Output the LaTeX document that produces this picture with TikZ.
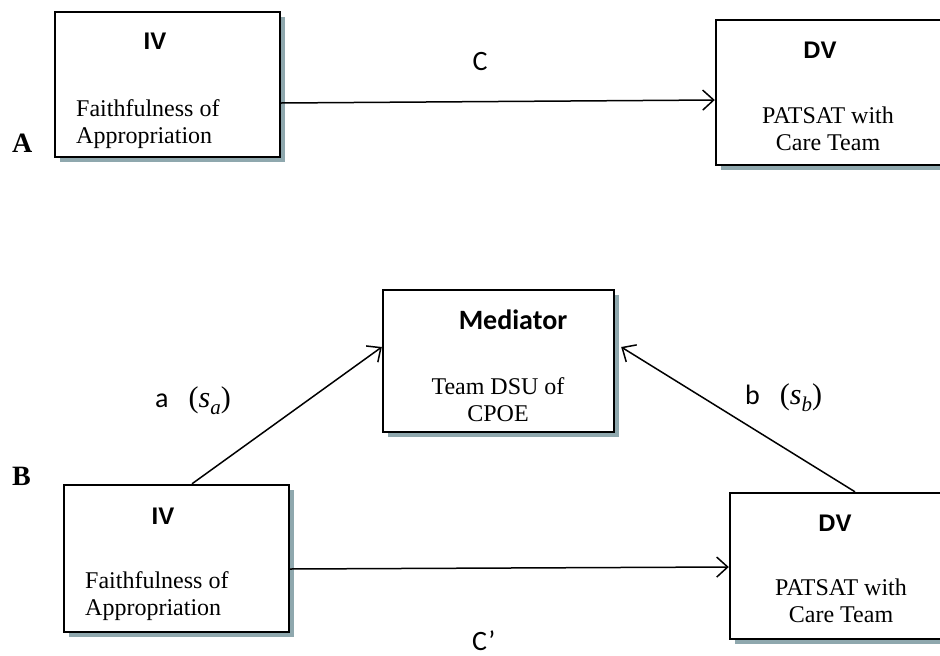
\documentclass[tikz,border=0pt]{standalone}
\usepackage{fontspec}
\setmainfont{Liberation Serif}
\newfontfamily\arialf{Liberation Sans}
\newfontfamily\calib{Carlito}
\usetikzlibrary{shadows,arrows.meta}
\definecolor{shadowc}{HTML}{8FA8AE}
\newcommand{\coef}[1]{{\rmfamily\fontsize{30}{34}\selectfont(\textit{s}\raisebox{-7pt}{\fontsize{21}{21}\selectfont\textit{#1}})}}
\begin{document}
\begin{tikzpicture}[x=1pt,y=-1pt,
  box/.style={draw=black, line width=2.4pt, fill=white, inner sep=0pt,
    minimum width=225pt, minimum height=145pt,
    drop shadow={shadow xshift=5pt, shadow yshift=-5pt, fill=shadowc, opacity=1}},
  ttl/.style={font=\arialf\bfseries\fontsize{24}{28}\selectfont, inner sep=0pt},
  medttl/.style={font=\calib\bfseries\fontsize{28}{32}\selectfont, inner sep=0pt},
  body/.style={font=\fontsize{24}{27}\selectfont, inner sep=0pt},
  lbl/.style={font=\calib\fontsize{28}{32}\selectfont, inner sep=0pt},
  panel/.style={font=\bfseries\fontsize{28}{32}\selectfont, inner sep=0pt},
  arr/.style={line width=1.5pt, -{Straight Barb[length=11pt,width=20pt,line width=1.5pt]}}
]
\useasboundingbox (0,0) rectangle (940,656);
\fill[white] (0,0) rectangle (940,656);

% ---------- Panel A ----------
\node[box] (ivA) at (167.5,84.5) {};
\node[box] (dvA) at (828.5,92.5) {};
\node[ttl] (ivAt) at (155,41) {IV};
\node[body, anchor=base west, align=left] (ivAb) at (76,143) {Faithfulness of\\Appropriation};
\node[ttl] (dvAt) at (820,50) {DV};
\node[body, anchor=base, align=center] (dvAb) at (828,150) {PATSAT with\\Care Team};
\node[panel, anchor=base west] (pA) at (12,152) {A};
\draw[arr] ([yshift=-18.5pt]ivA.east) -- ([yshift=-7.5pt]dvA.west);
\node[lbl] (cA) at (480,62) {C};

% ---------- Panel B ----------
\node[box, minimum width=231pt, minimum height=142pt] (med) at (498.5,361) {};
\node[medttl] (medt) at (513,320) {Mediator};
\node[body, anchor=base, align=center] (medb) at (498,421) {Team DSU of\\CPOE};

\node[box, minimum height=147pt] (ivB) at (176.5,558.5) {};
\node[ttl] (ivBt) at (163,516) {IV};
\node[body, anchor=base west, align=left] (ivBb) at (85,615) {Faithfulness of\\Appropriation};

\node[box, minimum height=146pt] (dvB) at (842.5,566) {};
\node[ttl] (dvBt) at (835,523) {DV};
\node[body, anchor=base, align=center] (dvBb) at (841,622) {PATSAT with\\Care Team};

\node[panel, anchor=base west] (pB) at (12,485) {B};

\draw[arr] ([xshift=15.5pt]ivB.north) -- ([yshift=14pt]med.west);
\draw[arr] ([xshift=12.5pt]dvB.north) -- ([xshift=6pt,yshift=14pt]med.east);
\draw[arr] ([yshift=-10.5pt]ivB.east) -- ([yshift=-1pt]dvB.west);

\node[lbl, anchor=base west] (la) at (155,407) {a\hspace{20pt}\coef{a}};
\node[lbl, anchor=base west] (lb) at (745,404) {b\hspace{20pt}\coef{b}};
\node[lbl, anchor=base west] (cB) at (472,650) {C\textquoteright};
\end{tikzpicture}
\end{document}
